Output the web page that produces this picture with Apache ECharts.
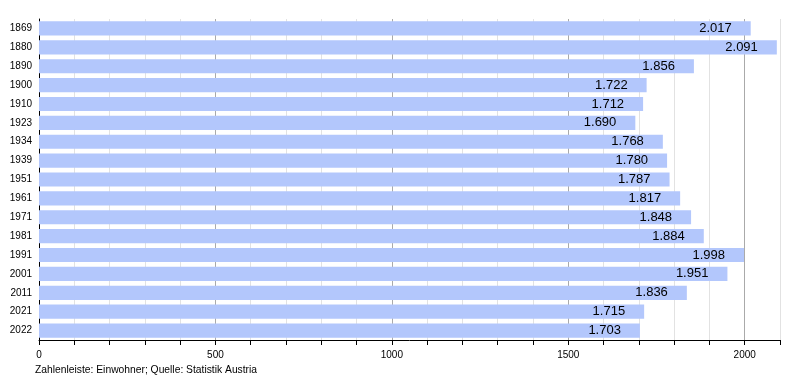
<!DOCTYPE html>
<html>
<head>
<meta charset="utf-8">
<script src="https://cdn.jsdelivr.net/npm/echarts@6/dist/echarts.min.js"></script>
<style>
  html, body { margin: 0; padding: 0; background: #fff; }
  #chart { width: 800px; height: 380px; }
</style>
</head>
<body>
<div id="chart"></div>
<script>
// Einwohnerentwicklung (Census-Jahre)
const years = ['1869','1880','1890','1900','1910','1923','1934','1939','1951','1961','1971','1981','1991','2001','2011','2021','2022'];
const population = [2017, 2091, 1856, 1722, 1712, 1690, 1768, 1780, 1787, 1817, 1848, 1884, 1998, 1951, 1836, 1715, 1703];
const axisTickLabels = [0, 500, 1000, 1500, 2000];
const caption = 'Zahlenleiste: Einwohner; Quelle: Statistik Austria';

const fmt = v => {
  const s = String(v);
  return s.length > 3 ? s.slice(0, s.length - 3) + '.' + s.slice(-3) : s;
};

const FONT = 'Liberation Sans, Arial, sans-serif';
const chart = echarts.init(document.getElementById('chart'), null, { renderer: 'canvas' });
chart.setOption({
  animation: false,
  textStyle: { fontFamily: FONT },
  graphic: [{
    type: 'text', left: 35, top: 365,
    style: { text: caption, fontSize: 10.3, fill: '#000', fontFamily: FONT }
  }],
  grid: { left: 39, right: 20, top: 19, bottom: 40, containLabel: false },
  xAxis: {
    type: 'value', min: 0, max: 2100, interval: 100,
    axisLine: { show: true, lineStyle: { color: '#000', width: 1 } },
    axisTick: { show: true, length: 5, lineStyle: { color: '#000' } },
    axisLabel: {
      color: '#000', fontSize: 10, margin: 10,
      formatter: v => axisTickLabels.includes(v) ? String(v) : ''
    },
    splitLine: {
      show: true,
      lineStyle: { color: ['#aaaaaa', '#e2e2e2', '#e2e2e2', '#e2e2e2', '#e2e2e2'], width: 1 }
    }
  },
  yAxis: {
    type: 'category', data: years, inverse: true,
    axisLine: { show: true, lineStyle: { color: '#000', width: 1 } },
    axisTick: { show: false },
    axisLabel: { color: '#000', fontSize: 10, margin: 7 },
    splitLine: { show: false }
  },
  series: [{
    type: 'bar', data: population,
    barCategoryGap: '25%',
    itemStyle: { color: '#b3c7fc' },
    label: {
      show: true, position: 'insideRight', distance: 19,
      color: '#000', fontSize: 13,
      formatter: p => fmt(p.value)
    }
  }]
});
</script>
</body>
</html>
